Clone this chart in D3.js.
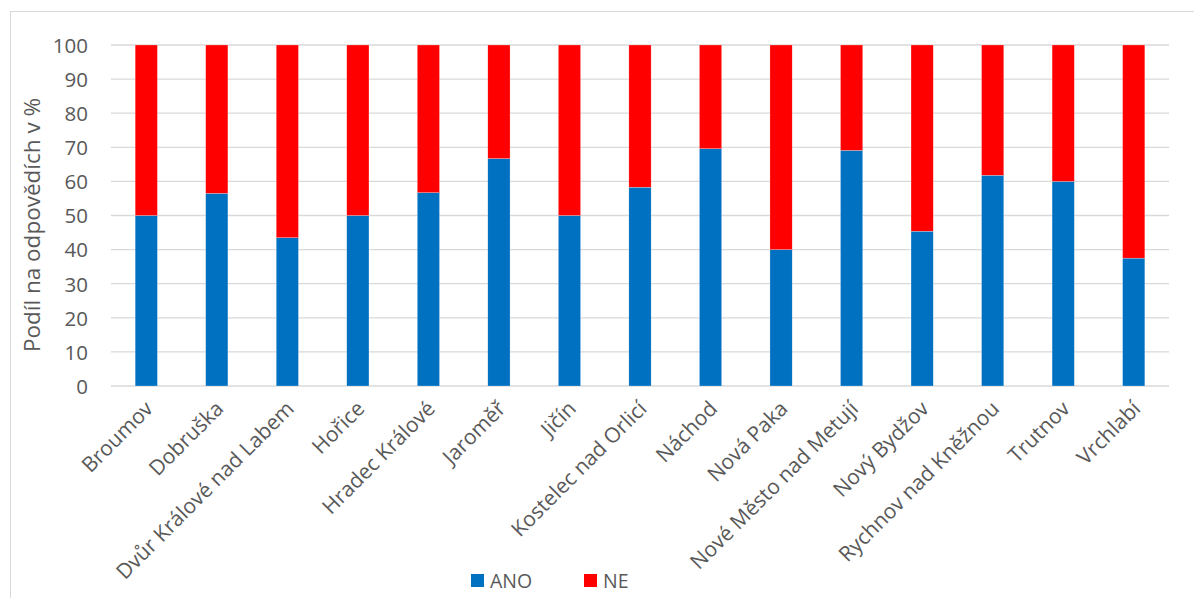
<!DOCTYPE html>
<html><head><meta charset="utf-8">
<script src="https://cdn.jsdelivr.net/npm/d3@7"></script>
<style>body{margin:0;background:#fff}svg{display:block}</style>
</head><body>
<script>
const categories = ["Broumov","Dobruška","Dvůr Králové nad Labem","Hořice","Hradec Králové","Jaroměř","Jičín","Kostelec nad Orlicí","Náchod","Nová Paka","Nové Město nad Metují","Nový Bydžov","Rychnov nad Kněžnou","Trutnov","Vrchlabí"];
const ano = [50, 56.5, 43.5, 50, 56.7, 66.7, 50, 58.3, 69.6, 40, 69.1, 45.4, 61.8, 60, 37.5];
const ne = [50, 43.5, 56.5, 50, 43.3, 33.3, 50, 41.7, 30.4, 60, 30.9, 54.6, 38.2, 40, 62.5];
const yTicks = [0,10,20,30,40,50,60,70,80,90,100];
const seriesNames = ["ANO","NE"];
const colors = ["#0070C0","#FF0000"];

(function(){
const W=1194,H=598;
const FONT="'Open Sans', sans-serif";
const svg=d3.select("body").append("svg").attr("width",W).attr("height",H);
svg.append("rect").attr("x",10.5).attr("y",11.5).attr("width",1300).attr("height",700)
  .attr("fill","none").attr("stroke","#d9d9d9").attr("stroke-width",1);

const pL=111,pR=1169,pT=45,pB=386;
const x=d3.scaleBand().domain(categories).range([pL,pR]).paddingInner(0.685).paddingOuter(0.3425);
const y=d3.scaleLinear().domain([0,100]).range([pB,pT]);

svg.append("g").selectAll("line").data(yTicks).join("line")
  .attr("x1",pL).attr("x2",pR).attr("y1",d=>y(d)).attr("y2",d=>y(d))
  .attr("stroke","#d9d9d9").attr("stroke-width",1.3);

const yAxis=d3.axisLeft(y).tickValues(yTicks).tickSize(0).tickPadding(0);
const gy=svg.append("g").attr("transform",`translate(88,0)`).call(yAxis);
gy.select(".domain").remove();
gy.selectAll("text").attr("font-family",FONT).attr("font-size",20.5).attr("fill","#595959").attr("dy","0.36em");

const rows=categories.map((c,i)=>({cat:c,ANO:ano[i],NE:ne[i]}));
const stack=d3.stack().keys(seriesNames)(rows);
svg.append("g").selectAll("g").data(stack).join("g").attr("fill",(d,i)=>colors[i])
  .selectAll("rect").data(d=>d).join("rect")
  .attr("x",d=>x(d.data.cat)).attr("width",x.bandwidth())
  .attr("y",d=>y(d[1])).attr("height",d=>y(d[0])-y(d[1]))
  .attr("stroke","#fff").attr("stroke-width",0.4).attr("stroke-opacity",0.6);

const xAxis=d3.axisBottom(x).tickSize(0).tickPadding(0);
const gx=svg.append("g").attr("transform",`translate(0,${pB})`).call(xAxis);
gx.select(".domain").remove();
gx.selectAll("text").attr("font-family",FONT).attr("font-size",21).attr("fill","#595959")
  .attr("text-anchor","end").attr("dy",0).attr("y",0)
  .attr("transform","translate(8,24) rotate(-45)");

svg.append("text").attr("transform","translate(40,225) rotate(-90)")
  .attr("text-anchor","middle").attr("font-family",FONT).attr("font-size",22.5)
  .attr("fill","#595959").text("Podíl na odpovědích v %");

const legX=[471,584];
const lg=svg.append("g").selectAll("g").data(seriesNames).join("g")
  .attr("transform",(d,i)=>`translate(${legX[i]},574)`);
lg.append("rect").attr("width",13).attr("height",13).attr("fill",(d,i)=>colors[i]);
lg.append("text").attr("x",19).attr("y",14).attr("font-family",FONT).attr("font-size",19.5)
  .attr("fill","#595959").text(d=>d);
})();
</script>
</body></html>
